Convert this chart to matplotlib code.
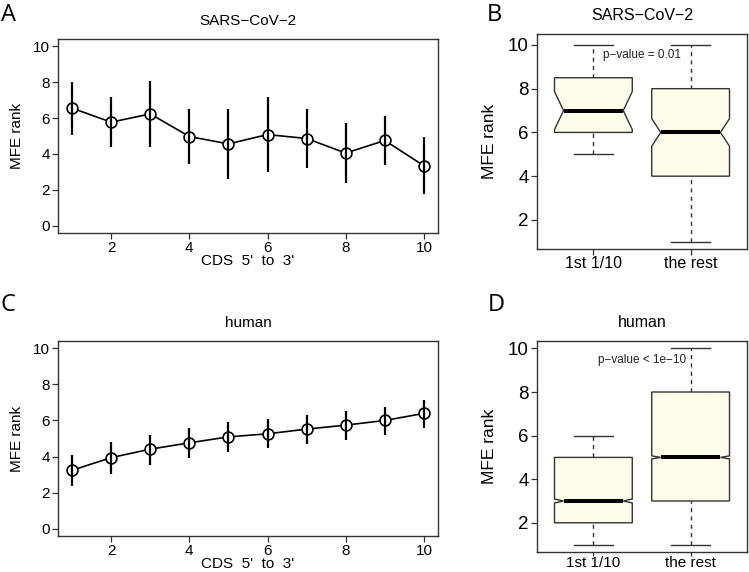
import matplotlib
matplotlib.use("Agg")
import matplotlib.pyplot as plt
import numpy as np

plt.rcParams['font.family'] = ['Liberation Sans', 'DejaVu Sans']

# ---- data: line panels (A, C) ----
cds_pos = [1, 2, 3, 4, 5, 6, 7, 8, 9, 10]
sars_mean = [6.55, 5.77, 6.23, 4.97, 4.56, 5.08, 4.86, 4.05, 4.75, 3.34]
sars_upper = [8.03, 7.18, 8.07, 6.53, 6.53, 7.16, 6.49, 5.75, 6.12, 4.97]
sars_lower = [5.06, 4.41, 4.38, 3.45, 2.60, 3.02, 3.21, 2.37, 3.39, 1.76]
human_mean = [3.24, 3.94, 4.41, 4.76, 5.09, 5.26, 5.52, 5.74, 6.00, 6.39]
human_upper = [4.11, 4.78, 5.22, 5.57, 5.89, 6.06, 6.30, 6.54, 6.76, 7.15]
human_lower = [2.39, 3.06, 3.56, 3.94, 4.28, 4.46, 4.72, 4.94, 5.20, 5.59]
line_xticks = [2, 4, 6, 8, 10]
line_yticks = [0, 2, 4, 6, 8, 10]

# ---- data: box panels (B, D) ----
box_labels = ["1st 1/10", "the rest"]
sars_wlo = [5, 1]
sars_q1 = [6, 4]
sars_med = [7, 6]
sars_q3 = [8.5, 8]
sars_whi = [10, 10]
sars_notch = [0.87, 0.63]
human_wlo = [1, 1]
human_q1 = [2, 3]
human_med = [3, 5]
human_q3 = [5, 8]
human_whi = [6, 10]
human_notch = [0.09, 0.07]
box_yticks = [2, 4, 6, 8, 10]

W, H = 749, 572
fig = plt.figure(figsize=(W / 100, H / 100), dpi=100)

def px_axes(l, t, r, b):
    return fig.add_axes([l / W, 1 - b / H, (r - l) / W, (b - t) / H])

spine_col = '#333333'
FS = 11

def style(ax):
    for s in ax.spines.values():
        s.set_color(spine_col)
        s.set_linewidth(1.0)
    ax.tick_params(direction='out', length=4, width=0.9, color=spine_col,
                   labelsize=FS, pad=2)

def line_panel(ax, mean, lo, up, title):
    x = np.array(cds_pos)
    m = np.array(mean)
    ax.plot(x, m, '-', color='black', lw=1.2, zorder=1)
    ax.plot(x, m, 'o', ms=7.8, mfc='white', mec='black', mew=1.2, zorder=2)
    ax.vlines(x, lo, up, color='black', lw=1.6, zorder=3)
    ax.set_xlim(0.64, 10.36)
    ax.set_ylim(-0.4, 10.4)
    ax.set_xticks(line_xticks)
    ax.set_yticks(line_yticks)
    ax.set_xlabel("CDS  5'  to  3'", fontsize=FS, labelpad=-1)
    ax.set_ylabel("MFE rank", fontsize=FS, labelpad=6)
    ax.set_title(title, fontsize=FS, pad=10)
    style(ax)

def box_panel(ax, wlo, q1, med, q3, whi, notch, title, ptext, ylim):
    bw = 0.4
    inset = 0.093
    for i in range(len(box_labels)):
        xc = i + 1
        xs = [xc - bw, xc + bw, xc + bw, xc + bw - inset, xc + bw, xc + bw,
              xc - bw, xc - bw, xc - bw + inset, xc - bw, xc - bw]
        ys = [q1[i], q1[i], med[i] - notch[i], med[i], med[i] + notch[i], q3[i],
              q3[i], med[i] + notch[i], med[i], med[i] - notch[i], q1[i]]
        ax.fill(xs, ys, facecolor='#fdfde9', edgecolor=spine_col, lw=1.0, zorder=2)
        ax.plot([xc - bw + inset, xc + bw - inset], [med[i], med[i]],
                color='black', lw=2.9, solid_capstyle='butt', zorder=3)
        ax.plot([xc, xc], [wlo[i], q1[i]], color=spine_col, lw=1.0,
                ls=(0, (3, 3)), zorder=1)
        ax.plot([xc, xc], [q3[i], whi[i]], color=spine_col, lw=1.0,
                ls=(0, (3, 3)), zorder=1)
        ax.plot([xc - 0.2, xc + 0.2], [wlo[i], wlo[i]], color=spine_col, lw=1.0)
        ax.plot([xc - 0.2, xc + 0.2], [whi[i], whi[i]], color=spine_col, lw=1.0)
    ax.set_xlim(0.42, 2.58)
    ax.set_ylim(*ylim)
    ax.set_xticks([1, 2])
    ax.set_xticklabels(box_labels)
    ax.set_yticks(box_yticks)
    ax.set_ylabel("MFE rank", fontsize=12.5, labelpad=8)
    ax.set_title(title, fontsize=FS + 0.5, pad=10)
    style(ax)
    ax.tick_params(axis='y', labelsize=13.5)
    ax.tick_params(axis='x', labelsize=11.5, pad=1)
    ax.text(1.5, ptext, "p\u2212value " + ("= 0.01" if ptext > 9.5 else "< 1e\u221210"),
            ha='center', va='center', fontsize=8.5, color='#222222', zorder=4)

axA = px_axes(58, 39, 438, 233)
line_panel(axA, sars_mean, sars_lower, sars_upper, "SARS\u2212CoV\u22122")
axC = px_axes(58, 341, 438, 536)
line_panel(axC, human_mean, human_lower, human_upper, "human")

axB = px_axes(537, 34, 747, 249)
box_panel(axB, sars_wlo, sars_q1, sars_med, sars_q3, sars_whi, sars_notch,
          "SARS\u2212CoV\u22122", 9.55, (0.67, 10.5))
axD = px_axes(537, 341, 747, 552)
box_panel(axD, human_wlo, human_q1, human_med, human_q3, human_whi, human_notch,
          "human", 9.45, (0.66, 10.34))
axD.tick_params(axis='x', labelsize=11, pad=0, length=3)

for lab, x, y in [("A", 1, 15), ("B", 487, 15), ("C", 1, 305), ("D", 488, 305)]:
    fig.text(x / W, 1 - y / H, lab, fontsize=17, family=['Open Sans', 'DejaVu Sans'],
             ha='left', va='center')

fig.savefig("out.png", dpi=100)
